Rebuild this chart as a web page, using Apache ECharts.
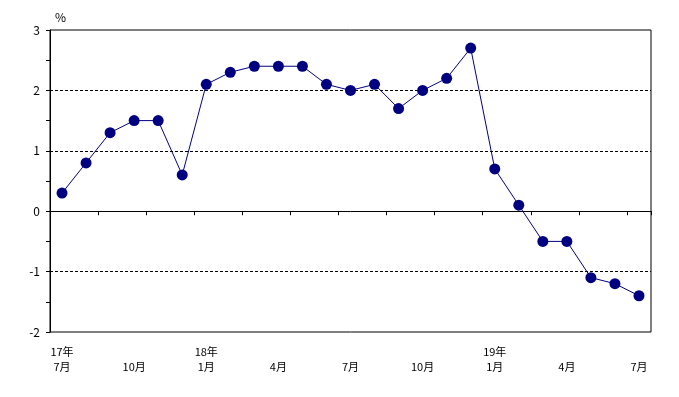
<!DOCTYPE html>
<html>
<head>
<meta charset="utf-8">
<script src="https://cdn.jsdelivr.net/npm/echarts@6/dist/echarts.min.js"></script>
<style>
  html, body { margin: 0; padding: 0; background: #fff; }
  #chart { width: 679px; height: 397px; }
</style>
</head>
<body>
<div id="chart"></div>
<script>
// months from 17年7月 to 19年7月
var months = ['17年\n7月', '\n8月', '\n9月', '\n10月', '\n11月', '\n12月',
  '18年\n1月', '\n2月', '\n3月', '\n4月', '\n5月', '\n6月',
  '\n7月', '\n8月', '\n9月', '\n10月', '\n11月', '\n12月',
  '19年\n1月', '\n2月', '\n3月', '\n4月', '\n5月', '\n6月', '\n7月']
var values = [0.3, 0.8, 1.3, 1.5, 1.5, 0.6, 2.1, 2.3, 2.4, 2.4, 2.4, 2.1,
  2.0, 2.1, 1.7, 2.0, 2.2, 2.7, 0.7, 0.1, -0.5, -0.5, -1.1, -1.2, -1.4]
// dashed gridlines (the 3, 0 and -2 lines are the frame / axis)
var gridLines = [2, 1, -1]
// label every third month
var labelEvery = 3

var font = '"Noto Sans CJK JP", "Liberation Sans", sans-serif'

var chart = echarts.init(document.getElementById('chart'))
chart.setOption({
  animation: false,
  title: {
    text: '%',
    left: 50,
    top: 6,
    textStyle: { fontSize: 12, fontWeight: 'normal', color: '#000', fontFamily: font }
  },
  grid: {
    left: 50, right: 28, top: 30, bottom: 65,
    show: true, borderColor: '#000', borderWidth: 1
  },
  xAxis: [
    {
      type: 'category',
      data: months,
      boundaryGap: true,
      axisLine: { onZero: true, lineStyle: { color: '#000', width: 1 } },
      axisTick: { show: true, inside: false, length: 4, lineStyle: { color: '#000' } },
      axisLabel: { show: false },
      splitLine: { show: false }
    },
    {
      type: 'category',
      data: months,
      position: 'bottom',
      boundaryGap: true,
      axisLine: { show: false, onZero: false },
      axisTick: { show: false },
      axisLabel: {
        interval: function (i) { return i % labelEvery === 0 },
        margin: 12,
        fontSize: 11,
        lineHeight: 15,
        color: '#000',
        fontFamily: font
      }
    }
  ],
  yAxis: {
    type: 'value',
    min: -2,
    max: 3,
    interval: 1,
    axisLine: { show: true, onZero: false, lineStyle: { color: '#000', width: 1 } },
    axisTick: { show: true, length: 4, lineStyle: { color: '#000' } },
    minorTick: { show: true, splitNumber: 2, length: 4, lineStyle: { color: '#000' } },
    axisLabel: {
      margin: 10,
      fontSize: 12,
      color: '#000',
      fontFamily: font,
      formatter: function (v) {
        return v < 0 ? '-' + Math.abs(v) : String(v)
      }
    },
    splitLine: { show: false }
  },
  series: [
    {
      type: 'line',
      data: values,
      xAxisIndex: 0,
      symbol: 'circle',
      symbolSize: 11,
      lineStyle: { color: '#000080', width: 1 },
      itemStyle: { color: '#000080' },
      z: 5,
      markLine: {
        silent: true,
        symbol: 'none',
        label: { show: false },
        lineStyle: { color: '#000', type: [3, 2], width: 1 },
        z: 1,
        data: gridLines.map(function (v) { return { yAxis: v } })
      }
    }
  ]
})
</script>
</body>
</html>
